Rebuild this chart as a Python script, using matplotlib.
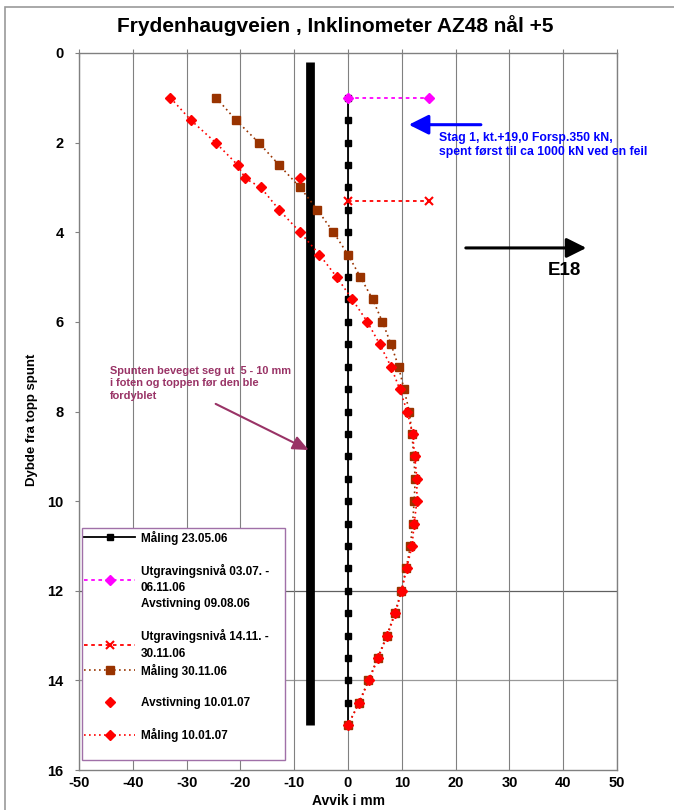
import matplotlib
matplotlib.use("Agg")
import matplotlib.pyplot as plt
from matplotlib.lines import Line2D
from matplotlib.patches import Rectangle

plt.rcParams['font.family'] = ['Liberation Sans', 'DejaVu Sans']
plt.rcParams['font.weight'] = 'bold'
plt.rcParams['axes.unicode_minus'] = False

# ---------------- data ----------------
title = "Frydenhaugveien , Inklinometer AZ48 nål +5"
x_label = "Avvik i mm"
y_label = "Dybde fra topp spunt"
x_ticks = [-50, -40, -30, -20, -10, 0, 10, 20, 30, 40, 50]
y_ticks = [0, 2, 4, 6, 8, 10, 12, 14, 16]
y_grid_lines = [12, 14]

# Måling 23.05.06 (reference, zero deviation)
depth_23 = [1.0, 1.5, 2.0, 2.5, 3.0, 3.5, 4.0, 4.5, 5.0, 5.5, 6.0, 6.5, 7.0, 7.5,
            8.0, 8.5, 9.0, 9.5, 10.0, 10.5, 11.0, 11.5, 12.0, 12.5, 13.0, 13.5,
            14.0, 14.5, 15.0]
dev_23 = [0, 0, 0, 0, 0, 0, 0, 0, 0, 0, 0, 0, 0, 0, 0, 0, 0, 0, 0, 0, 0, 0, 0,
          0, 0, 0, 0, 0, 0]

# Utgravingsnivå 03.07. - 06.11.06
utg1_x = [0, 15]
utg1_y = [1.0, 1.0]

# Utgravingsnivå 14.11. - 30.11.06
utg2_x = [0, 15]
utg2_y = [3.3, 3.3]

# Måling 30.11.06
depth_30 = [1.0, 1.5, 2.0, 2.5, 3.0, 3.5, 4.0, 4.5, 5.0, 5.5, 6.0, 6.5, 7.0, 7.5,
            8.0, 8.5, 9.0, 9.5, 10.0, 10.5, 11.0, 11.5, 12.0, 12.5, 13.0, 13.5,
            14.0, 14.5, 15.0]
dev_30 = [-24.5, -20.8, -16.6, -12.8, -8.9, -5.7, -2.7, 0.0, 2.3, 4.6, 6.4, 8.0,
          9.4, 10.4, 11.4, 11.9, 12.2, 12.5, 12.3, 12.0, 11.6, 10.8, 9.9, 8.7,
          7.2, 5.5, 3.8, 2.0, 0.0]

# Avstivning 10.01.07
avst_x = [-9.0]
avst_y = [2.8]

# Måling 10.01.07
depth_10 = [1.0, 1.5, 2.0, 2.5, 2.8, 3.0, 3.5, 4.0, 4.5, 5.0, 5.5, 6.0, 6.5, 7.0,
            7.5, 8.0, 8.5, 9.0, 9.5, 10.0, 10.5, 11.0, 11.5, 12.0, 12.5, 13.0,
            13.5, 14.0, 14.5, 15.0]
dev_10 = [-33.0, -29.2, -24.6, -20.5, -19.1, -16.2, -12.8, -8.9, -5.3, -2.1, 0.8,
          3.6, 5.9, 8.0, 9.6, 11.0, 12.0, 12.4, 12.8, 12.8, 12.3, 11.9, 10.9,
          10.0, 8.8, 7.3, 5.6, 3.9, 2.1, 0.0]

# Spunt (sheet pile wall)
spunt_x = [-7.0, -7.0]
spunt_y = [0.2, 15.0]

labels = ["Måling 23.05.06", "Utgravingsnivå 03.07. -\n06.11.06", "Avstivning 09.08.06",
          "Utgravingsnivå 14.11. -\n30.11.06", "Måling 30.11.06",
          "Avstivning 10.01.07", "Måling 10.01.07"]

stag_text = "Stag 1, kt.+19,0 Forsp.350 kN,\nspent først til ca 1000 kN ved en feil"
spunt_text = "Spunten beveget seg ut  5 - 10 mm\ni foten og toppen før den ble\nfordyblet"
road_text = "E18"

# ---------------- figure ----------------
fig = plt.figure(figsize=(6.74, 8.10), dpi=100)
ax = fig.add_axes([79 / 674, 1 - 770 / 810, 538 / 674, 717 / 810])

fig.add_artist(Rectangle((5 / 674, -0.05), 1.0, (810 - 7) / 810 + 0.05,
                         transform=fig.transFigure, fill=False,
                         edgecolor='#9a9a9a', lw=1.2))

ax.set_xlim(-50, 50)
ax.set_ylim(16, 0)
ax.set_xticks(x_ticks)
ax.set_yticks(y_ticks)
ax.set_axisbelow(True)
ax.xaxis.grid(True, color='#808080', lw=0.8)
for yy, c in zip(y_grid_lines, ['#606060', '#999999']):
    ax.axhline(yy, color=c, lw=0.9, zorder=0.5)

for s in ax.spines.values():
    s.set_color('#808080')
    s.set_linewidth(1.0)

ax.tick_params(axis='x', top=True, bottom=False, labeltop=False, labelbottom=True,
               direction='inout', length=6, color='#808080', labelsize=10.5, pad=1)
ax.tick_params(axis='y', left=True, right=False, direction='out', length=3,
               color='#808080', labelsize=10.5, pad=8)
for lab in ax.get_xticklabels() + ax.get_yticklabels():
    lab.set_fontweight('bold')

ax.set_xlabel(x_label, fontsize=10, fontweight='bold', va='top')
ax.xaxis.set_label_coords(0.5, -0.033)
ax.set_ylabel(y_label, fontsize=9.5, fontweight='bold')
ax.yaxis.set_label_coords(-0.076, 0.488)

fig.text(0.497, 1 - 26 / 810, title, ha='center', va='center', fontsize=15,
         fontweight='bold')

# series
ax.plot(spunt_x, spunt_y, color='black', lw=6.3, solid_capstyle='butt', zorder=2)
l23, = ax.plot(dev_23, depth_23, color='black', lw=1.3, marker='s', ms=4.5, zorder=3)
lu1, = ax.plot(utg1_x, utg1_y, color='#FF00FF', lw=1.3, ls=(0, (2, 2)), marker='D',
               ms=5, zorder=7)
lu2, = ax.plot(utg2_x, utg2_y, color='#FF0000', lw=1.3, ls=(0, (2, 2)), marker='x',
               ms=6, mew=1.5, zorder=7)
l30, = ax.plot(dev_30, depth_30, color='#993300', lw=1.2, ls=(0, (1, 2)), marker='s',
               ms=5.5, zorder=4)
la10, = ax.plot(avst_x, avst_y, ls='none', color='#FF0000', marker='D', ms=5.5, zorder=6)
l10, = ax.plot(dev_10, depth_10, color='#FF0000', lw=1.2, ls=(0, (1, 2)), marker='D',
               ms=5.5, zorder=6)

# annotations
ax.annotate('', xy=(11.3, 1.6), xytext=(24.7, 1.6),
            arrowprops=dict(arrowstyle='-|>,head_length=0.8,head_width=0.4',
                            color='#0000FF', lw=2.2, mutation_scale=15,
                            shrinkA=0, shrinkB=0))
ax.text(17.0, 1.76, stag_text, color='#0000FF', fontsize=8.8, fontweight='bold',
        ha='left', va='top', linespacing=1.25)

ax.annotate('', xy=(44.3, 4.35), xytext=(21.9, 4.35),
            arrowprops=dict(arrowstyle='-|>,head_length=0.8,head_width=0.4',
                            color='black', lw=2.2, mutation_scale=15,
                            shrinkA=0, shrinkB=0))
ax.text(40.2, 4.86, road_text, color='black', fontsize=13.5, fontweight='bold',
        ha='center', va='center')

ax.annotate('', xy=(-7.3, 8.86), xytext=(-24.6, 7.83),
            arrowprops=dict(arrowstyle='-|>,head_length=0.8,head_width=0.35',
                            color='#993366', lw=1.5, mutation_scale=12,
                            shrinkA=0, shrinkB=0))
ax.text(-44.2, 6.98, spunt_text, color='#993366', fontsize=7.9, fontweight='bold',
        ha='left', va='top', linespacing=1.3)

# legend
blank = Line2D([], [], ls='none')
h_a09 = Line2D([], [], ls='none')
handles = [l23, blank, lu1, h_a09, blank, lu2, l30, blank, la10, blank, l10, blank]
leg_labels = [labels[0], ' ', labels[1], labels[2], ' ', labels[3], labels[4], ' ',
              labels[5], ' ', labels[6], ' ']
leg = ax.legend(handles, leg_labels, loc='lower left',
                bbox_to_anchor=(3 / 538, 10 / 717, 203 / 538, 232 / 717),
                mode='expand', borderaxespad=0, frameon=True,
                fancybox=False, edgecolor='#A070A8', framealpha=1,
                handlelength=4.3, handletextpad=0.5, labelspacing=0.31,
                borderpad=0.18, numpoints=1, prop={'weight': 'bold', 'size': 8.5})
leg.get_frame().set_linewidth(1.0)
for t in leg.get_texts():
    t.set_linespacing(1.5)

fig.savefig('out.png', dpi=100)
